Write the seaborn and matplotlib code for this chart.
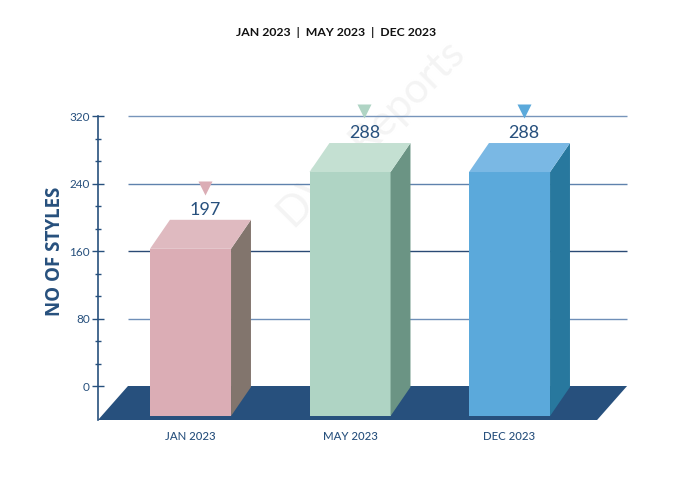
import matplotlib
matplotlib.use("Agg")
import matplotlib.pyplot as plt
from matplotlib.patches import Polygon
import seaborn as sns
import pandas as pd

# data
months = ["JAN 2023", "MAY 2023", "DEC 2023"]
styles = [197, 288, 288]
y_ticks = [0, 80, 160, 240, 320]

# colours of the fake 3d bars
front_colors = ["#dbadb5", "#afd4c4", "#5ba9db"]
top_colors = ["#dfbac0", "#c4e0d2", "#7ab8e4"]
side_colors = ["#82756d", "#6b9484", "#28789e"]
navy = "#27507d"

sns.set_style("white")
plt.rcParams["font.family"] = ["Lato", "DejaVu Sans"]

df = pd.DataFrame({"month": months, "styles": styles})

# perspective settings (data units)
depth_dx = 0.125
depth_dy = 34.4
base = -35.6

fig = plt.figure(figsize=(6.85, 4.87), dpi=100)
ax = fig.add_axes([98 / 685, 67 / 487, 542 / 685, 320 / 487])

# front faces: seaborn draws the bars at value minus depth, then we drop them onto the floor
front = df.assign(front=df["styles"] - depth_dy)
sns.barplot(data=front, x="month", y="front", hue="month", palette=front_colors,
            saturation=1, width=0.508, legend=False, ax=ax, zorder=4, linewidth=0)

ax.set_xlim(-0.58, 2.818)
ax.set_ylim(-40.3, 339)

# gridlines
grid_colors = {320: "#7795bb", 240: "#5f82ad", 160: "#2a4a75", 80: "#6f8fb8"}
for t, c in grid_colors.items():
    ax.hlines(t, -0.392, 2.737, color=c, lw=1.0, zorder=1)

# floor
floor = Polygon([(-0.392, 0), (2.737, 0), (2.549, -40.3), (-0.58, -40.3)],
                closed=True, facecolor=navy, edgecolor="none", zorder=2)
ax.add_patch(floor)

for i, p in enumerate(ax.patches[:3]):
    h = p.get_height()
    p.set_y(base)
    p.set_height(h - base)
    x0 = p.get_x()
    x1 = x0 + p.get_width()
    top = h
    side = Polygon([(x1, base), (x1 + depth_dx, base + depth_dy),
                    (x1 + depth_dx, top + depth_dy), (x1, top)],
                   closed=True, facecolor=side_colors[i], edgecolor="none", zorder=4)
    lid = Polygon([(x0, top), (x1, top), (x1 + depth_dx, top + depth_dy),
                   (x0 + depth_dx, top + depth_dy)],
                  closed=True, facecolor=top_colors[i], edgecolor="none", zorder=4)
    ax.add_patch(side)
    ax.add_patch(lid)
    cx = x0 + p.get_width() / 2 + 0.09
    ax.text(cx, styles[i] + 12, str(styles[i]), ha="center", va="center",
            fontsize=13, color=navy, zorder=6)
    ax.plot(cx, styles[i] + 37.5, marker="v", ms=10, color=front_colors[i],
            mec="none", zorder=6, clip_on=False)

# axes styling
for s in ["top", "right", "bottom"]:
    ax.spines[s].set_visible(False)
ax.spines["left"].set_color(navy)
ax.spines["left"].set_linewidth(1.2)
ax.spines["left"].set_bounds(-40.3, 320)

ax.set_yticks(y_ticks)
ax.set_yticklabels([str(t) for t in y_ticks])
ax.set_yticks([t + k * 80 / 3 for t in y_ticks[:-1] for k in (1, 2)], minor=True)
ax.tick_params(axis="y", which="major", left=True, direction="inout", length=8, width=1,
               color=navy, labelcolor=navy, labelsize=8.5, pad=2)
ax.tick_params(axis="y", which="minor", left=True, direction="inout", length=4, width=1,
               color=navy)
ax.tick_params(axis="x", length=0, labelcolor=navy, labelsize=8.2, pad=8)
for lbl in ax.get_xticklabels():
    lbl.set_fontweight("medium")
ax.set_xlabel("")
ax.set_ylabel("NO OF STYLES", fontsize=13.5, fontweight="bold", color=navy,
              family=["Open Sans", "DejaVu Sans"])
ax.yaxis.set_label_coords((65 - 98) / 542, (420 - 251) / 320)

fig.text(336 / 685, 1 - 32 / 487, "JAN 2023  |  MAY 2023  |  DEC 2023",
         ha="center", va="center", fontsize=8.8, fontweight="bold", color="#111111")

# faint watermark behind everything in the axes
ax.text(372 / 685, 1 - 135 / 487, "DVN Reports", rotation=45, ha="center", va="center",
        fontsize=30, color="#f4f4f4", zorder=0.5, transform=fig.transFigure)

fig.savefig("out.png", dpi=100)
